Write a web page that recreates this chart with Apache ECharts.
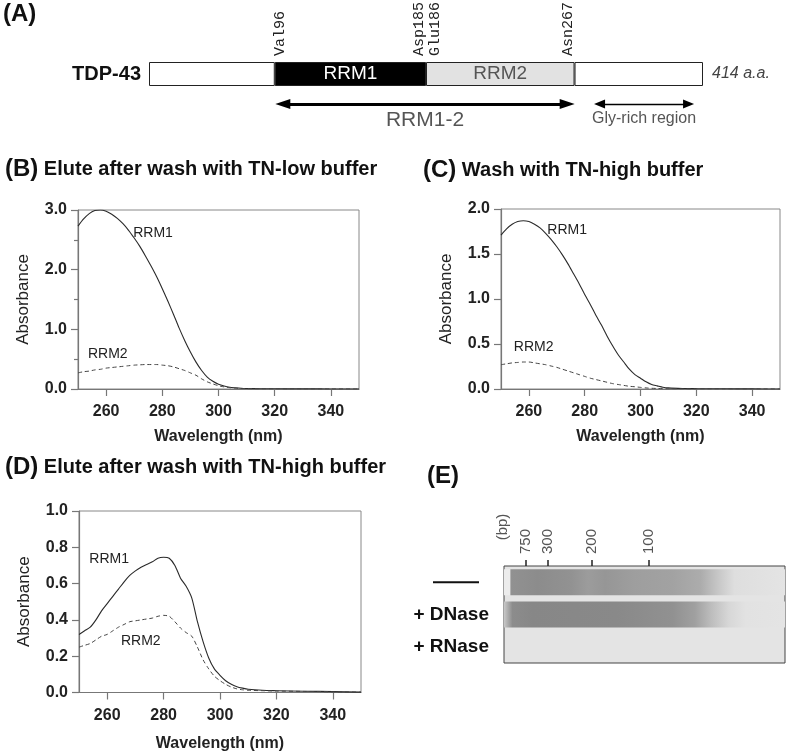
<!DOCTYPE html>
<html><head><meta charset="utf-8">
<script src="https://cdn.jsdelivr.net/npm/echarts@6/dist/echarts.min.js"></script>
<style>html,body{margin:0;padding:0;background:#fff}#c{width:787px;height:753px}</style>
</head><body><div id="c"></div>
<script>
// ---------- Panel A: domain schematic (positions on the drawing's 0-414 a.a. scale) ----------
const domainNames = ['', 'RRM1', 'RRM2', ''];
const domainEdges = [0, 94, 207, 318, 414];
const residueLabels = ['Val96', 'Asp185', 'Glu186', 'Asn267'];
const residueMarks = [98, 202, 214, 313];
const arrowRRM12 = [100, 312.5];
const arrowGly = [336.7, 403.2];

// ---------- Panels B-D: absorbance spectra ----------
const wavelength = [250,252,254,256,258,260,262,264,266,268,270,272,274,276,278,280,282,284,286,288,290,292,294,296,298,300,302,304,306,308,310,315,320,330,340,350];
const xTicks = [260, 280, 300, 320, 340];

const rrm1B = [2.73,2.85,2.94,2.99,3.0,2.98,2.93,2.86,2.77,2.66,2.53,2.39,2.23,2.06,1.88,1.68,1.47,1.25,1.02,0.81,0.62,0.45,0.31,0.20,0.13,0.08,0.05,0.03,0.02,0.012,0.008,0.004,0.003,0.002,0.001,0.0];
const rrm2B = [0.27,0.29,0.30,0.32,0.33,0.35,0.36,0.37,0.38,0.39,0.40,0.405,0.41,0.41,0.41,0.40,0.39,0.37,0.34,0.31,0.27,0.23,0.17,0.12,0.085,0.055,0.035,0.022,0.014,0.009,0.006,0.004,0.003,0.002,0.001,0.0];

const rrm1C = [1.71,1.78,1.83,1.86,1.87,1.86,1.83,1.79,1.73,1.66,1.58,1.49,1.39,1.28,1.17,1.05,0.94,0.82,0.71,0.59,0.48,0.38,0.30,0.22,0.16,0.12,0.08,0.05,0.035,0.02,0.012,0.006,0.004,0.002,0.001,0.0];
const rrm2C = [0.27,0.28,0.29,0.295,0.30,0.30,0.29,0.28,0.27,0.255,0.24,0.22,0.20,0.18,0.16,0.14,0.12,0.105,0.09,0.075,0.06,0.05,0.04,0.03,0.025,0.018,0.012,0.008,0.006,0.004,0.003,0.002,0.002,0.001,0.001,0.0];

const rrm1D = [0.32,0.34,0.36,0.40,0.45,0.49,0.53,0.57,0.61,0.645,0.67,0.69,0.705,0.72,0.74,0.745,0.74,0.70,0.63,0.585,0.52,0.39,0.28,0.19,0.13,0.095,0.065,0.045,0.032,0.024,0.018,0.012,0.01,0.007,0.005,0.002];
const rrm2D = [0.25,0.26,0.27,0.29,0.31,0.32,0.34,0.36,0.375,0.39,0.395,0.40,0.405,0.41,0.42,0.425,0.42,0.39,0.355,0.33,0.31,0.25,0.18,0.13,0.09,0.065,0.045,0.03,0.02,0.015,0.012,0.01,0.008,0.006,0.004,0.002];

// ---------- Panel E: gel ----------
const gelLanes = ['—', '+ DNase', '+ RNase'];
const gelMarkerLabels = ['750', '300', '200', '100'];
const gelMarkerPos = [7.8, 15.6, 31.4, 51.4];          // % of gel width from the wells
const lane1Offsets = [0, 0.02, 0.025, 0.12, 0.24, 0.30, 0.36, 0.46, 0.60, 0.70, 0.76, 0.82, 1];
const lane1Gray    = [236, 236, 145, 140, 146, 156, 150, 158, 162, 172, 198, 222, 228];
const lane2Offsets = [0, 0.03, 0.10, 0.40, 0.60, 0.68, 0.74, 0.80, 0.86, 1];
const lane2Gray    = [200, 140, 135, 137, 145, 160, 190, 215, 226, 228];

// ---------- build ----------
const FONT = 'Liberation Sans, Arial, sans-serif';
const pairs = (ys) => wavelength.map((x, i) => [x, ys[i]]);
const grayStops = (offs, g) => offs.map((o, i) => ({offset: o, color: `rgb(${g[i]},${g[i]},${g[i]})`}));

function specX(gi, gap) {
  return {
    gridIndex: gi, type: 'value', min: 250, max: 350,
    axisLine: {show: true, lineStyle: {color: '#777', width: 1.2}},
    axisTick: {show: true, customValues: xTicks, length: 7, lineStyle: {color: '#777', width: 1.2}},
    axisLabel: {customValues: xTicks, fontSize: 16, fontWeight: 'bold', color: '#222', margin: 15, fontFamily: FONT},
    splitLine: {show: false},
    name: 'Wavelength (nm)', nameLocation: 'middle', nameGap: gap,
    nameTextStyle: {fontSize: 16, fontWeight: 'bold', color: '#222', fontFamily: FONT}
  };
}
function specY(gi, max, interval, minor) {
  return {
    gridIndex: gi, type: 'value', min: 0, max: max, interval: interval,
    axisLine: {show: true, lineStyle: {color: '#777', width: 1.2}},
    axisTick: {show: true, length: 7, lineStyle: {color: '#777', width: 1.2}},
    minorTick: {show: !!minor, splitNumber: minor || 5, length: 4, lineStyle: {color: '#777', width: 1.2}},
    axisLabel: {fontSize: 16, fontWeight: 'bold', color: '#222', margin: 11, fontFamily: FONT,
      formatter: v => v.toFixed(1)},
    splitLine: {show: false}, minorSplitLine: {show: false},
    name: 'Absorbance', nameLocation: 'middle', nameGap: 46, nameRotate: 90,
    nameTextStyle: {fontSize: 17, color: '#222', fontFamily: FONT}
  };
}
function curve(gi, ys, dashed, label, coord) {
  return {
    type: 'line', xAxisIndex: gi, yAxisIndex: gi, data: pairs(ys), showSymbol: false, smooth: 0.25,
    lineStyle: {color: dashed ? '#444' : '#2a2a2a', width: dashed ? 1 : 1.1, type: dashed ? [4, 3] : 'solid'},
    silent: true,
    markPoint: {
      symbol: 'rect', symbolSize: 1, itemStyle: {color: 'rgba(0,0,0,0)'},
      label: {show: true, position: 'inside', formatter: '{b}', color: '#222', fontSize: 14, fontFamily: FONT},
      data: [{name: label, coord: coord}]
    }
  };
}
const gridBase = {show: true, borderColor: '#888', borderWidth: 1, containLabel: false, outerBoundsMode: 'none'};

const domainColors = ['#ffffff', '#000000', '#e2e2e2', '#ffffff'];
const domainLabelColors = ['#000', '#ffffff', '#555', '#000'];
const domainSeries = domainNames.map((nm, i) => ({
  type: 'bar', xAxisIndex: 0, yAxisIndex: 0, stack: 'tdp', barWidth: 24, silent: true,
  data: [domainEdges[i + 1] - domainEdges[i], '-'],
  itemStyle: {color: domainColors[i], borderColor: '#222', borderWidth: 1},
  label: i === 3
    ? {show: true, position: 'right', distance: 9, formatter: '414 a.a.', fontStyle: 'italic', fontSize: 16, color: '#444', fontFamily: FONT}
    : {show: nm !== '', position: 'inside', formatter: nm, fontSize: 19, color: domainLabelColors[i], fontFamily: FONT},
  markLine: i === 0 ? {
    silent: true, animation: false,
    data: [
      [{coord: [arrowRRM12[0], 'arrows'], symbol: 'triangle', symbolSize: [10, 15],
        lineStyle: {color: '#000', width: 3, type: 'solid'},
        label: {show: true, formatter: 'RRM1-2', position: 'insideMiddleBottom', distance: 6, fontSize: 21, color: '#555', fontFamily: FONT}},
       {coord: [arrowRRM12[1], 'arrows'], symbol: 'triangle', symbolSize: [10, 15]}],
      [{coord: [arrowGly[0], 'arrows'], symbol: 'triangle', symbolSize: [9, 11],
        lineStyle: {color: '#000', width: 1.3, type: 'solid'},
        label: {show: true, formatter: 'Gly-rich region', position: 'insideMiddleBottom', distance: 7, fontSize: 16, color: '#555', fontFamily: FONT}},
       {coord: [arrowGly[1], 'arrows'], symbol: 'triangle', symbolSize: [9, 11]}]
    ]
  } : undefined
}));

const chart = echarts.init(document.getElementById('c'), null, {renderer: 'canvas'});
const option = {
  animation: false,
  backgroundColor: '#fff',
  textStyle: {fontFamily: FONT},
  grid: [
    {left: 149, top: 59, width: 554, height: 60, show: false, containLabel: false, outerBoundsMode: 'none'},
    Object.assign({left: 78, top: 210, width: 281, height: 179}, gridBase),
    Object.assign({left: 501, top: 209, width: 279, height: 180}, gridBase),
    Object.assign({left: 79, top: 511, width: 282, height: 181.5}, gridBase),
    {left: 504, top: 566, width: 281, height: 97, show: true, backgroundColor: '#e4e4e4', borderColor: '#444', borderWidth: 1, containLabel: false, outerBoundsMode: 'none'}
  ],
  xAxis: [
    {gridIndex: 0, type: 'value', min: 0, max: 414, position: 'top',
     axisLine: {show: false}, axisTick: {show: false}, splitLine: {show: false},
     axisLabel: {customValues: residueMarks, rotate: -90, margin: 3, fontSize: 15, color: '#222',
       fontFamily: 'Liberation Mono, Courier New, monospace',
       formatter: v => residueLabels[residueMarks.indexOf(v)] || ''}},
    specX(1, 40), specX(2, 40), specX(3, 43),
    {gridIndex: 4, type: 'value', min: 0, max: 100, position: 'top',
     axisLine: {show: false}, splitLine: {show: false},
     axisTick: {show: true, customValues: gelMarkerPos, length: 6, lineStyle: {color: '#222', width: 1.5}},
     axisLabel: {customValues: gelMarkerPos, rotate: -90, margin: 12, fontSize: 15, color: '#555', fontFamily: FONT,
       formatter: v => gelMarkerLabels[gelMarkerPos.indexOf(v)] || ''}}
  ],
  yAxis: [
    {gridIndex: 0, type: 'category', data: ['TDP-43', 'arrows'], inverse: true,
     axisLine: {show: false}, axisTick: {show: false},
     axisLabel: {margin: 8, fontSize: 20, fontWeight: 'bold', color: '#111', fontFamily: FONT,
       formatter: v => v === 'TDP-43' ? v : ''}},
    specY(1, 3, 1, 2), specY(2, 2, 0.5, 0), specY(3, 1, 0.2, 0),
    {gridIndex: 4, type: 'category', data: gelLanes, inverse: true,
     axisLine: {show: false}, axisTick: {show: false},
     axisLabel: {margin: 15, fontSize: 19, fontWeight: 'bold', color: '#111', fontFamily: FONT,
       formatter: (v, i) => i === 0 ? '{line| }{gap| }' : v,
       rich: {line: {width: 46, height: 2, backgroundColor: '#111'}, gap: {width: 10}}}}
  ],
  series: [
    ...domainSeries,
    curve(1, rrm1B, false, 'RRM1', [276.7, 2.61]),
    curve(1, rrm2B, true, 'RRM2', [260.6, 0.59]),
    curve(2, rrm1C, false, 'RRM1', [273.7, 1.77]),
    curve(2, rrm2C, true, 'RRM2', [261.7, 0.46]),
    curve(3, rrm1D, false, 'RRM1', [260.7, 0.733]),
    curve(3, rrm2D, true, 'RRM2', [271.9, 0.285]),
    {type: 'bar', xAxisIndex: 4, yAxisIndex: 4, barWidth: 26, silent: true,
     data: [
       {value: 100, itemStyle: {color: new echarts.graphic.LinearGradient(0, 0, 1, 0, grayStops(lane1Offsets, lane1Gray))}},
       {value: 100, itemStyle: {color: new echarts.graphic.LinearGradient(0, 0, 1, 0, grayStops(lane2Offsets, lane2Gray))}},
       '-'
     ]}
  ],
  graphic: [
    {type: 'text', x: 3, y: 14, style: {text: '(A)', fontSize: 24, fontWeight: 'bold', fill: '#111', fontFamily: FONT, verticalAlign: 'middle'}},
    {type: 'text', x: 5, y: 169, style: {text: '{p|(B)}{t| Elute after wash with TN-low buffer}', verticalAlign: 'middle', fill: '#111',
      rich: {p: {fontSize: 24, fontWeight: 'bold', fontFamily: FONT}, t: {fontSize: 20, fontWeight: 'bold', fontFamily: FONT}}}},
    {type: 'text', x: 423, y: 170, style: {text: '{p|(C)}{t| Wash with TN-high buffer}', verticalAlign: 'middle', fill: '#111',
      rich: {p: {fontSize: 24, fontWeight: 'bold', fontFamily: FONT}, t: {fontSize: 20, fontWeight: 'bold', fontFamily: FONT}}}},
    {type: 'text', x: 5, y: 467, style: {text: '{p|(D)}{t| Elute after wash with TN-high buffer}', verticalAlign: 'middle', fill: '#111',
      rich: {p: {fontSize: 24, fontWeight: 'bold', fontFamily: FONT}, t: {fontSize: 20, fontWeight: 'bold', fontFamily: FONT}}}},
    {type: 'text', x: 427, y: 476, style: {text: '(E)', fontSize: 24, fontWeight: 'bold', fill: '#111', fontFamily: FONT, verticalAlign: 'middle'}},
    {type: 'text', x: 503, y: 527, rotation: Math.PI / 2, style: {text: '(bp)', fontSize: 15, fill: '#555', fontFamily: FONT, align: 'center', verticalAlign: 'middle'}}
  ]
};
chart.setOption(option);
</script>
</body></html>
